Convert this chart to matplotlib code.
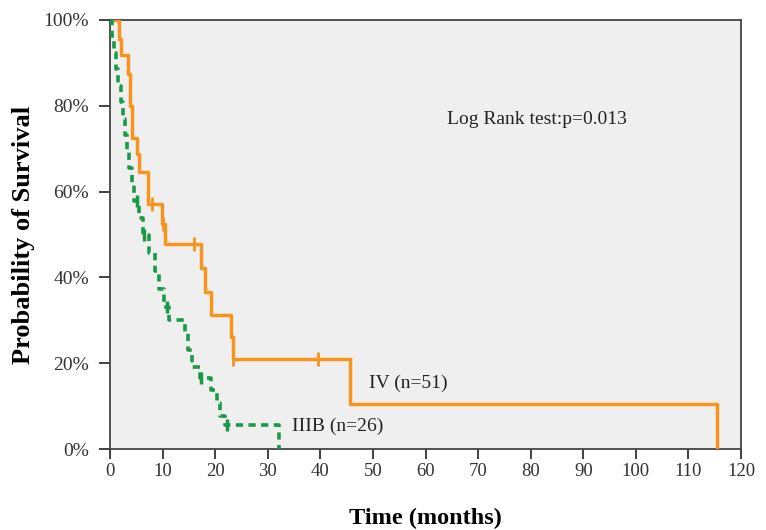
import matplotlib
matplotlib.use("Agg")
import matplotlib.pyplot as plt
from matplotlib.ticker import FuncFormatter

# Kaplan-Meier curves (time in months, survival in %)
iv_time = [0, 1.7, 2.1, 3.5, 3.8, 4.1, 5.1, 5.6, 7.3, 9.8, 10.5, 17.4, 18.1,
           19.3, 23.1, 23.4, 45.6, 115.4]
iv_surv = [100, 95.5, 91.8, 87.5, 80.0, 72.5, 68.8, 64.6, 57.2, 52.4, 47.8,
           42.1, 36.7, 31.2, 26.2, 21.0, 10.6, 0]
iv_cens_time = [8.0, 10.0, 16.0, 23.4, 39.6]
iv_cens_surv = [57.2, 52.4, 47.8, 21.0, 21.0]

iiib_time = [0, 0.3, 0.8, 1.2, 1.6, 2.0, 2.4, 2.8, 3.3, 3.7, 4.1, 4.6, 5.6,
             6.2, 7.4, 8.6, 9.4, 10.2, 11.2, 14.2, 14.9, 15.5, 17.2, 19.3,
             20.3, 21.0, 21.8, 32.1]
iiib_surv = [100, 96.2, 92.3, 88.5, 84.6, 80.8, 76.9, 73.1, 69.2, 65.4, 61.5,
             57.7, 53.8, 49.8, 45.6, 41.4, 37.2, 33.2, 30.0, 27.0, 23.0, 19.0,
             16.5, 13.7, 10.8, 7.8, 5.6, 0]
iiib_cens_time = [5.2, 6.5, 10.8, 17.4, 22.2]
iiib_cens_surv = [57.7, 49.8, 33.2, 16.5, 5.6]

x_ticks = list(range(0, 121, 10))
y_ticks = [0, 20, 40, 60, 80, 100]

orange = "#F7941D"
green = "#1A9A48"

plt.rcParams['font.family'] = ['Liberation Serif', 'DejaVu Serif']

fig = plt.figure(figsize=(7.66, 5.30), dpi=100)
ax = fig.add_axes([0.1436, 0.1528, 0.8238, 0.8095])
ax.set_facecolor("#EFEFEF")

ax.step(iv_time, iv_surv, where='post', color=orange, lw=2.5, zorder=3)
ax.plot(iv_cens_time, iv_cens_surv, ls='none', marker='|', ms=10, mew=2,
        color=orange, zorder=3)

ax.step(iiib_time, iiib_surv, where='post', color=green, lw=2.6,
        dashes=(2.0, 1.5), zorder=4)
ax.plot(iiib_cens_time, iiib_cens_surv, ls='none', marker='|', ms=9, mew=2.5,
        color=green, zorder=4)

ax.set_xlim(0, 120)
ax.set_ylim(0, 100)
ax.set_xticks(x_ticks)
ax.set_yticks(y_ticks)
ax.yaxis.set_major_formatter(FuncFormatter(lambda v, p: f"{int(v)}%"))
ax.tick_params(axis='x', direction='out', length=7, width=1.3, colors='#333333',
               labelsize=13.5, pad=3)
ax.tick_params(axis='y', direction='out', length=8, width=1.3, colors='#333333',
               labelsize=14, pad=7)
for s in ax.spines.values():
    s.set_color('#444444')
    s.set_linewidth(1.3)

ax.set_xlabel("Time (months)", fontsize=17.5, fontweight='bold', labelpad=20)
ax.set_ylabel("Probability of Survival", fontsize=19, fontweight='bold',
              labelpad=6)

ax.text(64.1, 76.7, "Log Rank test:p=0.013", fontsize=14, va='center',
        ha='left', color='#222222')
ax.text(49.2, 15.4, "IV (n=51)", fontsize=14, va='center', ha='left',
        color='#222222')
ax.text(34.6, 5.4, "IIIB (n=26)", fontsize=14, va='center', ha='left',
        color='#222222')

fig.savefig("out.png", dpi=100)
